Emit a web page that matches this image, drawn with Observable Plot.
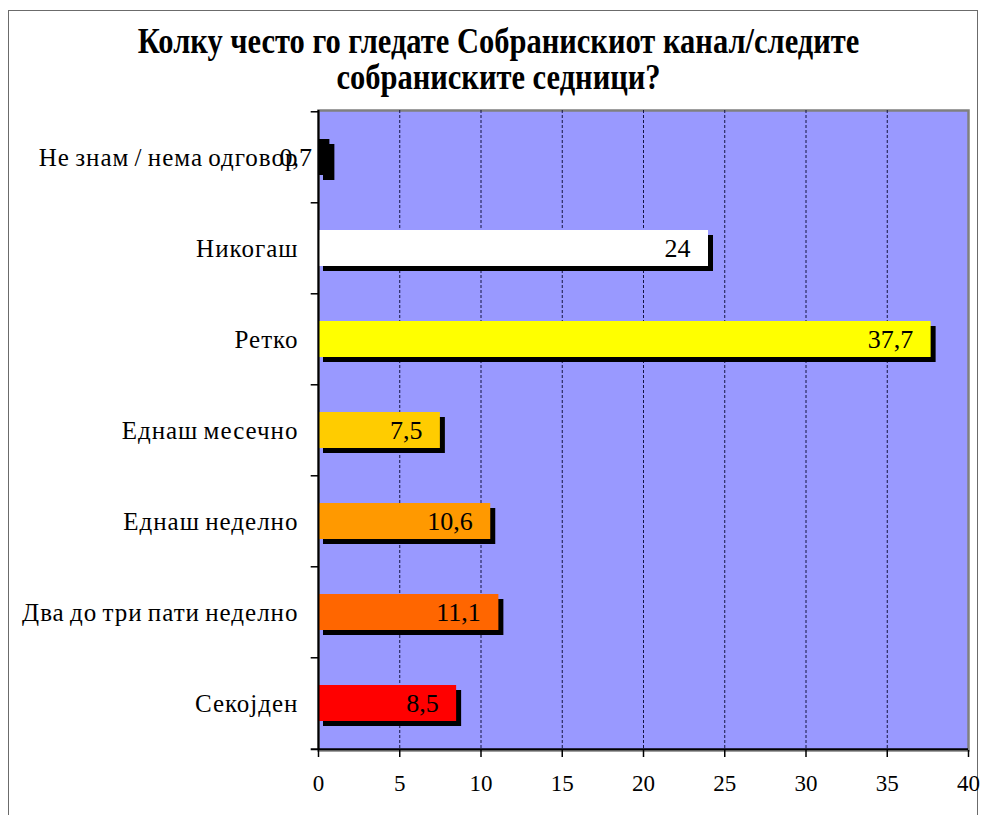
<!DOCTYPE html>
<html><head><meta charset="utf-8">
<script src="https://cdn.jsdelivr.net/npm/d3@7"></script>
<script src="https://cdn.jsdelivr.net/npm/@observablehq/plot@0.6"></script>
<style>
body{margin:0;background:#fff;}
#wrap{position:relative;width:985px;height:815px;overflow:hidden;font-family:"Liberation Serif","Times New Roman",serif;}
#frame{position:absolute;left:8px;top:10px;width:970px;height:900px;border:1.5px solid #6b6b6b;box-sizing:border-box;}
#title{position:absolute;left:6px;top:23px;width:985px;text-align:center;font-weight:bold;font-size:30.5px;line-height:36px;color:#000;}
#title span{display:inline-block;transform:scaleY(1.15);}
#chart{position:absolute;left:0;top:0;}
</style></head>
<body><div id="wrap"><div id="frame"></div><div id="chart"></div>
<div id="title"><span>Колку често го гледате Собранискиот канал/следите</span><br><span>собраниските седници?</span></div></div>
<script>
const categories = ["Не знам / нема одговор","Никогаш","Ретко","Еднаш месечно","Еднаш неделно","Два до три пати неделно","Секојден"];
const values = [0.7, 24, 37.7, 7.5, 10.6, 11.1, 8.5];
const valueLabels = ["0,7","24","37,7","7,5","10,6","11,1","8,5"];
const colors = ["#000000","#FFFFFF","#FFFF00","#FFCC00","#FF9900","#FF6600","#FF0000"];
const xTicks = [0,5,10,15,20,25,30,35,40];
const gridTicks = [5,10,15,20,25,30,35];

const data = categories.map((c,i)=>({category:c, value:values[i], label:valueLabels[i], color:colors[i]}));
const H = 815, mt = 110, mb = 65;
const step = (H - mt - mb) / categories.length;

const chart = Plot.plot({
  width: 985, height: H,
  marginLeft: 318, marginRight: 17, marginTop: mt, marginBottom: mb,
  style: {fontFamily: "'Liberation Serif', 'Times New Roman', serif", background: "transparent", color: "#000", overflow: "visible"},
  x: {domain: [0, 40], label: null},
  y: {domain: categories, paddingInner: 0.6, paddingOuter: 0.3, label: null},
  color: {type: "identity"},
  marks: [
    Plot.frame({fill: "#9999FF", stroke: "#808080", strokeWidth: 2.5}),
    Plot.ruleX(gridTicks, {stroke: "#141440", strokeDasharray: "3,2", strokeWidth: 1}),
    Plot.barX(data, {x1: 0, x2: "value", y: "category", fill: "#000", dx: 5, dy: 5}),
    Plot.barX(data, {x1: 0, x2: "value", y: "category", fill: d => d.color}),
    Plot.text(data, {x: "value", y: "category", text: "label", textAnchor: "end", dx: -18, fontSize: 26, fill: "#000"}),
    Plot.ruleX([0], {stroke: "#000", strokeWidth: 2}),
    Plot.ruleY(categories, {y: d => d, x1: -0.45, x2: 0, dy: -step / 2, stroke: "#000", strokeWidth: 1.5}),
    Plot.ruleY([categories[categories.length - 1]], {y: d => d, x1: -0.45, x2: 40, dy: step / 2, stroke: "#000", strokeWidth: 2}),
    Plot.axisX({ticks: xTicks, tickSize: 7, tickPadding: 17, fontSize: 23, tickFormat: d => String(d), stroke: "#000", strokeWidth: 1.5}),
    Plot.axisY({tickSize: 0, tickPadding: 20, fontSize: 25})
  ]
});
chart.querySelectorAll('[aria-label="y-axis tick label"] text').forEach(t => {
  t.style.letterSpacing = "1px";
  t.style.wordSpacing = "-2px";
});
document.getElementById("chart").appendChild(chart);
</script>
</body></html>
